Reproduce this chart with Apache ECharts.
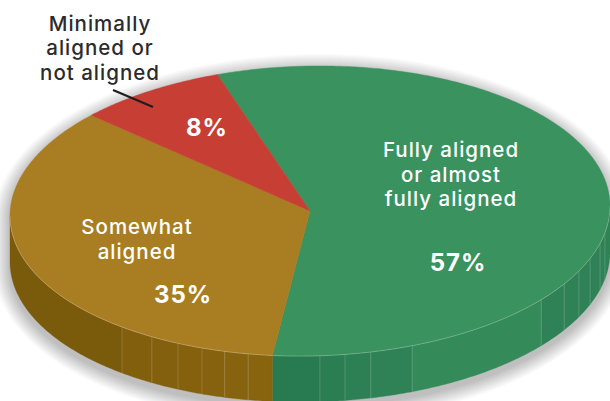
<!DOCTYPE html>
<html>
<head>
<meta charset="utf-8">
<style>html,body{margin:0;padding:0;background:#fff}#c{width:610px;height:401px}
#c text{letter-spacing:1px}</style>
<script src="https://cdn.jsdelivr.net/npm/echarts@6/dist/echarts.min.js"></script>
</head>
<body>
<div id="c"></div>
<script>
var categories = ['Fully aligned\nor almost\nfully aligned', 'Somewhat\naligned', 'Minimally\naligned or\nnot aligned'];
var values = [57, 35, 8];
var valueLabels = ['57%', '35%', '8%'];

var topColors = ['#3a925f', '#a97e22', '#c73e35'];
var sideColors = [['#27794f', '#358a5a'], ['#745509', '#88640f'], ['#8f2a24', '#8f2a24']];
var facetMarks = [10.5, 14.8, 21, 26.3, 32.1, 39.6, 70.1, 78.3, 83.3, 88.1, 101.9, 106.5, 111.1, 116.1, 121.8, 128.8];

var GEO = { cx: 310, cy: 211, rx: 300, ry: 145, depth: 46, start: -108, tilt: 0.016 };
var labelPos = [[451, 174], [137, 239], [100, 47.5]];
var valuePos = [[458, 262], [183, 294], [207, 127]];
var leader = { x1: 113, y1: 90, x2: 153, y2: 107 };
var TEXT_FONT = '500 20.5px Inter, "Noto Sans", sans-serif';
var VALUE_FONT = '700 24px Inter, "Noto Sans", sans-serif';
var SHADOW_STEPS = 16;

function pt(deg, dy, grow) {
  var r = deg * Math.PI / 180, g = grow || 0;
  var x = GEO.cx + (GEO.rx + g) * Math.cos(r);
  return [x, GEO.cy + (GEO.ry + g) * Math.sin(r) - (x - GEO.cx) * GEO.tilt + (dy || 0)];
}
function arc(a, b, dy, grow) {
  var out = [], n = Math.max(2, Math.ceil(Math.abs(b - a) * 2));
  for (var i = 0; i <= n; i++) out.push(pt(a + (b - a) * i / n, dy, grow));
  return out;
}
function sliceAngles(i) {
  var total = values.reduce(function (s, v) { return s + v; }, 0), a = GEO.start;
  for (var k = 0; k < i; k++) a += values[k] / total * 360;
  return [a, a + values[i] / total * 360];
}
function lerpColor(c1, c2, t) {
  var p = function (c, i) { return parseInt(c.substr(1 + i * 2, 2), 16); };
  var s = '#';
  for (var i = 0; i < 3; i++) {
    var v = Math.round(p(c1, i) + (p(c2, i) - p(c1, i)) * t).toString(16);
    s += (v.length < 2 ? '0' : '') + v;
  }
  return s;
}
function sideStrips(i) {
  var ang = sliceAngles(i), a = Math.max(ang[0], 0), b = Math.min(ang[1], 180), kids = [];
  if (b <= a) return kids;
  var cuts = [a].concat(facetMarks.filter(function (m) { return m > a && m < b; })).concat([b]);
  for (var k = 0; k < cuts.length - 1; k++) {
    var top = arc(cuts[k], cuts[k + 1], 0), bot = arc(cuts[k + 1], cuts[k], GEO.depth);
    var mid = (cuts[k] + cuts[k + 1]) / 2;
    var t = i === 0 ? (mid < 40 ? 0.55 : Math.min(1, Math.abs(mid - 97) / 42)) : Math.min(1, Math.max(0, (180 - mid) / 80));
    kids.push({ type: 'polygon', shape: { points: top.concat(bot) },
      style: { fill: lerpColor(sideColors[i][0], sideColors[i][1], t), stroke: lerpColor(sideColors[i][0], sideColors[i][1], t), lineWidth: 0.3 } });
  }
  for (var m = 1; m < cuts.length - 1; m++) {
    var p0 = pt(cuts[m]), p1 = pt(cuts[m], GEO.depth);
    kids.push({ type: 'line', shape: { x1: p0[0], y1: p0[1], x2: p1[0], y2: p1[1] },
      style: { stroke: 'rgba(255,255,255,0.22)', lineWidth: 0.8 } });
  }
  return kids;
}
function renderSlice(params) {
  var i = params.dataIndex, ang = sliceAngles(i), kids = [];
  if (i === 0) {
    for (var e = SHADOW_STEPS; e >= 1; e--) {
      kids.push({ type: 'polygon', shape: { points: arc(180, 360, 4, e).concat(arc(0, 180, GEO.depth + 5, e)) },
        style: { fill: '#000', opacity: 0.015 } });
    }
  }
  kids = kids.concat(sideStrips(i));
  kids.push({ type: 'polygon', shape: { points: [[GEO.cx, GEO.cy]].concat(arc(ang[0], ang[1], 0)) },
    style: { fill: topColors[i], stroke: topColors[i], lineWidth: 0.4 } });
  var fa = Math.max(ang[0], 0), fb = Math.min(ang[1], 180);
  if (fb > fa) {
    kids.push({ type: 'polyline', shape: { points: arc(fa, fb, 0) },
      style: { stroke: 'rgba(255,255,255,0.3)', lineWidth: 0.8, fill: null } });
  }
  return { type: 'group', children: kids };
}
function renderText(params) {
  var i = params.dataIndex, dark = i === 2, kids = [];
  kids.push({ type: 'text', style: { text: categories[i], x: labelPos[i][0], y: labelPos[i][1], align: 'center', verticalAlign: 'middle',
    font: TEXT_FONT, lineHeight: 24.5, fill: dark ? '#2b2b2d' : '#fff' } });
  kids.push({ type: 'text', style: { text: valueLabels[i], x: valuePos[i][0], y: valuePos[i][1], align: 'center', verticalAlign: 'middle',
    font: VALUE_FONT, fill: '#fff' } });
  if (dark) {
    kids.push({ type: 'line', shape: leader, style: { stroke: '#1d1d1f', lineWidth: 2 } });
  }
  return { type: 'group', children: kids };
}
var chart = echarts.init(document.getElementById('c'), null, { renderer: 'svg' });
chart.setOption({
  animation: false,
  backgroundColor: '#fff',
  series: [
    { type: 'custom', coordinateSystem: 'none', silent: true, renderItem: renderSlice, data: values },
    { type: 'custom', coordinateSystem: 'none', silent: true, renderItem: renderText, data: values, z: 5 }
  ]
});
</script>
</body>
</html>
